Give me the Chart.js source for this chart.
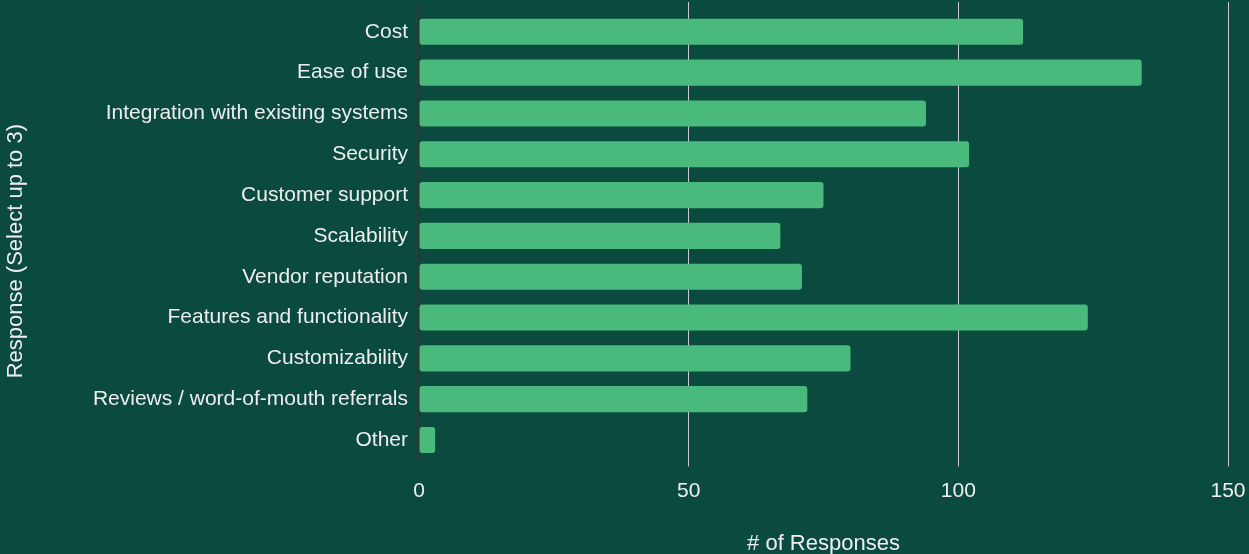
<!DOCTYPE html>
<html>
<head>
<meta charset="utf-8">
<script src="https://cdn.jsdelivr.net/npm/chart.js@4/dist/chart.umd.min.js"></script>
<style>
  html, body { margin: 0; padding: 0; background: #0b4a3f; }
  #wrap { width: 1249px; height: 554px; }
</style>
</head>
<body>
<div id="wrap"><canvas id="chart" width="1249" height="554"></canvas></div>
<script>
// Chart data
const categories = [
    'Cost',
    'Ease of use',
    'Integration with existing systems',
    'Security',
    'Customer support',
    'Scalability',
    'Vendor reputation',
    'Features and functionality',
    'Customizability',
    'Reviews / word-of-mouth referrals',
    'Other'
];
const responses = [112, 134, 94, 102, 75, 67, 71, 124, 80, 72, 3];
const xTicks = [0, 50, 100, 150];

const textColor = '#eeeeee';
const fontFamily = '"Liberation Sans", Arial, sans-serif';

// Same rounding Chart.js uses for crisp lines
function alignPixel(pixel, width) {
    const half = Math.max(width / 2, 0.5);
    return Math.round(pixel - half) + half;
}

// extends the vertical grid lines a little above the chart area
const gridExtend = {
    id: 'gridExtend',
    beforeDatasetsDraw(chart) {
        const ctx = chart.ctx;
        const x = chart.scales.x;
        const area = chart.chartArea;
        ctx.save();
        xTicks.forEach(v => {
            const w = v === 0 ? 2 : 1;
            const px = alignPixel(x.getPixelForValue(v), w);
            ctx.strokeStyle = v === 0 ? '#333333' : '#cccccc';
            ctx.lineWidth = w;
            ctx.beginPath();
            ctx.moveTo(px, 2);
            ctx.lineTo(px, area.top);
            ctx.stroke();
        });
        ctx.restore();
    }
};

new Chart(document.getElementById('chart'), {
    type: 'bar',
    data: {
        labels: categories,
        datasets: [{
            label: '# of Responses',
            data: responses,
            backgroundColor: '#4aba7c',
            borderRadius: 3,
            borderSkipped: false,
            barPercentage: 0.8,
            categoryPercentage: 0.8
        }]
    },
    plugins: [gridExtend],
    options: {
        indexAxis: 'y',
        responsive: false,
        animation: false,
        layout: { padding: 0 },
        plugins: {
            legend: { display: false },
            tooltip: { enabled: false }
        },
        scales: {
            x: {
                min: 0,
                max: 150,
                afterBuildTicks: axis => { axis.ticks = xTicks.map(v => ({ value: v })); },
                // keep the right margin as in the original
                afterFit: axis => { axis.paddingRight = 21; },
                grid: {
                    color: ctx => ctx.tick && ctx.tick.value === 0 ? 'rgba(0,0,0,0)' : '#cccccc',
                    tickLength: 6
                },
                border: { display: false },
                ticks: {
                    color: textColor,
                    padding: 12,
                    font: { family: fontFamily, size: 21 }
                },
                title: {
                    display: true,
                    text: '# of Responses',
                    color: textColor,
                    padding: { top: 15, bottom: -3 },
                    font: { family: fontFamily, size: 22 }
                }
            },
            y: {
                grid: { display: false },
                border: { display: true, color: '#333333', width: 2 },
                ticks: {
                    color: textColor,
                    padding: 3,
                    font: { family: fontFamily, size: 21, lineHeight: 0.8 }
                },
                title: {
                    display: true,
                    // trailing spaces push the rotated title a bit lower
                    text: 'Response (Select up to 3)\u00a0\u00a0\u00a0\u00a0\u00a0',
                    color: textColor,
                    padding: { top: 3, bottom: 4 },
                    font: { family: fontFamily, size: 22 }
                },
                afterFit: axis => { axis.width = 419; }
            }
        }
    }
});
</script>
</body>
</html>
